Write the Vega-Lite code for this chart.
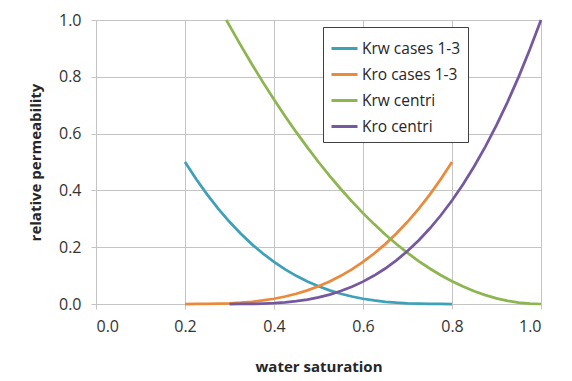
{
  "$schema": "https://vega.github.io/schema/vega-lite/v6.json",
  "width": 445,
  "height": 284,
  "autosize": "none",
  "padding": {"left": 96, "top": 20, "right": 31, "bottom": 77},
  "background": "white",
  "datasets": {
    "krw13": [
      {"s": 0.2, "kr": 0.5}, {"s": 0.225, "kr": 0.4401}, {"s": 0.25, "kr": 0.3851}, {"s": 0.275, "kr": 0.335},
      {"s": 0.3, "kr": 0.2894}, {"s": 0.325, "kr": 0.2481}, {"s": 0.35, "kr": 0.2109}, {"s": 0.375, "kr": 0.1777},
      {"s": 0.4, "kr": 0.1481}, {"s": 0.425, "kr": 0.1221}, {"s": 0.45, "kr": 0.0992}, {"s": 0.475, "kr": 0.0795},
      {"s": 0.5, "kr": 0.0625}, {"s": 0.525, "kr": 0.0481}, {"s": 0.55, "kr": 0.0362}, {"s": 0.575, "kr": 0.0264},
      {"s": 0.6, "kr": 0.0185}, {"s": 0.625, "kr": 0.0124}, {"s": 0.65, "kr": 0.0078}, {"s": 0.675, "kr": 0.0045},
      {"s": 0.7, "kr": 0.0023}, {"s": 0.725, "kr": 0.001}, {"s": 0.75, "kr": 0.0003}, {"s": 0.775, "kr": 0.00004},
      {"s": 0.8, "kr": 0}
    ],
    "kro13": [
      {"s": 0.2, "kr": 0}, {"s": 0.225, "kr": 0.00004}, {"s": 0.25, "kr": 0.0003}, {"s": 0.275, "kr": 0.001},
      {"s": 0.3, "kr": 0.0023}, {"s": 0.325, "kr": 0.0045}, {"s": 0.35, "kr": 0.0078}, {"s": 0.375, "kr": 0.0124},
      {"s": 0.4, "kr": 0.0185}, {"s": 0.425, "kr": 0.0264}, {"s": 0.45, "kr": 0.0362}, {"s": 0.475, "kr": 0.0481},
      {"s": 0.5, "kr": 0.0625}, {"s": 0.525, "kr": 0.0795}, {"s": 0.55, "kr": 0.0992}, {"s": 0.575, "kr": 0.1221},
      {"s": 0.6, "kr": 0.1481}, {"s": 0.625, "kr": 0.1777}, {"s": 0.65, "kr": 0.2109}, {"s": 0.675, "kr": 0.2481},
      {"s": 0.7, "kr": 0.2894}, {"s": 0.725, "kr": 0.335}, {"s": 0.75, "kr": 0.3851}, {"s": 0.775, "kr": 0.4401},
      {"s": 0.8, "kr": 0.5}
    ],
    "krwc": [
      {"s": 0.2929, "kr": 1.0}, {"s": 0.3, "kr": 0.98}, {"s": 0.325, "kr": 0.9113}, {"s": 0.35, "kr": 0.845},
      {"s": 0.375, "kr": 0.7813}, {"s": 0.4, "kr": 0.72}, {"s": 0.425, "kr": 0.6613}, {"s": 0.45, "kr": 0.605},
      {"s": 0.475, "kr": 0.5513}, {"s": 0.5, "kr": 0.5}, {"s": 0.525, "kr": 0.4513}, {"s": 0.55, "kr": 0.405},
      {"s": 0.575, "kr": 0.3613}, {"s": 0.6, "kr": 0.32}, {"s": 0.625, "kr": 0.2813}, {"s": 0.65, "kr": 0.245},
      {"s": 0.675, "kr": 0.2113}, {"s": 0.7, "kr": 0.18}, {"s": 0.725, "kr": 0.1513}, {"s": 0.75, "kr": 0.125},
      {"s": 0.775, "kr": 0.1013}, {"s": 0.8, "kr": 0.08}, {"s": 0.825, "kr": 0.0613}, {"s": 0.85, "kr": 0.045},
      {"s": 0.875, "kr": 0.0313}, {"s": 0.9, "kr": 0.02}, {"s": 0.925, "kr": 0.0113}, {"s": 0.95, "kr": 0.005},
      {"s": 0.975, "kr": 0.00125}, {"s": 1.0, "kr": 0}
    ],
    "kroc": [
      {"s": 0.3, "kr": 0}, {"s": 0.325, "kr": 0.00005}, {"s": 0.35, "kr": 0.00036}, {"s": 0.375, "kr": 0.00123},
      {"s": 0.4, "kr": 0.00292}, {"s": 0.425, "kr": 0.00569}, {"s": 0.45, "kr": 0.00984}, {"s": 0.475, "kr": 0.01563},
      {"s": 0.5, "kr": 0.02332}, {"s": 0.525, "kr": 0.03321}, {"s": 0.55, "kr": 0.04555}, {"s": 0.575, "kr": 0.06063},
      {"s": 0.6, "kr": 0.07872}, {"s": 0.625, "kr": 0.10008}, {"s": 0.65, "kr": 0.125}, {"s": 0.675, "kr": 0.15374},
      {"s": 0.7, "kr": 0.18659}, {"s": 0.725, "kr": 0.22381}, {"s": 0.75, "kr": 0.26567}, {"s": 0.775, "kr": 0.31246},
      {"s": 0.8, "kr": 0.36443}, {"s": 0.825, "kr": 0.42188}, {"s": 0.85, "kr": 0.48506}, {"s": 0.875, "kr": 0.55426},
      {"s": 0.9, "kr": 0.62974}, {"s": 0.925, "kr": 0.71178}, {"s": 0.95, "kr": 0.80066}, {"s": 0.975, "kr": 0.89664},
      {"s": 1.0, "kr": 1.0}
    ]
  },
  "config": {
    "font": "Open Sans",
    "view": {"stroke": null},
    "axis": {
      "gridColor": "#c4c4c4",
      "gridWidth": 1,
      "domainColor": "#c4c4c4",
      "tickColor": "#c4c4c4",
      "tickSize": 5,
      "labelFont": "Open Sans",
      "labelFontSize": 16,
      "labelColor": "#333333",
      "titleFont": "Open Sans",
      "titleFontSize": 15,
      "titleFontWeight": "bold",
      "titleColor": "#262626"
    }
  },
  "layer": [
    {"data": {"name": "krw13"}, "transform": [{"calculate": "'Krw cases 1-3'", "as": "series"}], "mark": {"type": "line", "strokeWidth": 2.75}, "encoding": {}},
    {"data": {"name": "kro13"}, "transform": [{"calculate": "'Kro cases 1-3'", "as": "series"}], "mark": {"type": "line", "strokeWidth": 2.75}, "encoding": {}},
    {"data": {"name": "krwc"}, "transform": [{"calculate": "'Krw centri'", "as": "series"}], "mark": {"type": "line", "strokeWidth": 2.75}, "encoding": {}},
    {"data": {"name": "kroc"}, "transform": [{"calculate": "'Kro centri'", "as": "series"}], "mark": {"type": "line", "strokeWidth": 2.75}, "encoding": {}}
  ],
  "encoding": {
    "x": {
      "field": "s", "type": "quantitative",
      "scale": {"domain": [0, 1], "nice": false},
      "axis": {"title": "water saturation", "values": [0, 0.2, 0.4, 0.6, 0.8, 1.0], "format": ".1f", "labelPadding": 9, "titlePadding": 25}
    },
    "y": {
      "field": "kr", "type": "quantitative",
      "scale": {"domain": [0, 1], "nice": false},
      "axis": {"title": "relative permeability", "values": [0, 0.2, 0.4, 0.6, 0.8, 1.0], "format": ".1f", "labelPadding": 10, "titlePadding": 15}
    },
    "color": {
      "field": "series", "type": "nominal",
      "scale": {
        "domain": ["Krw cases 1-3", "Kro cases 1-3", "Krw centri", "Kro centri"],
        "range": ["#3EA0B9", "#EC8A3C", "#8DB550", "#7559A0"]
      },
      "legend": {
        "title": null,
        "orient": "none",
        "legendX": 227,
        "legendY": 7,
        "symbolType": "stroke",
        "symbolSize": 676,
        "symbolStrokeWidth": 3,
        "labelFont": "Open Sans",
        "labelFontSize": 15.5,
        "labelColor": "#262626",
        "labelOffset": 3,
        "rowPadding": 3,
        "padding": 7,
        "strokeColor": "#404040",
        "fillColor": "white"
      }
    }
  }
}
